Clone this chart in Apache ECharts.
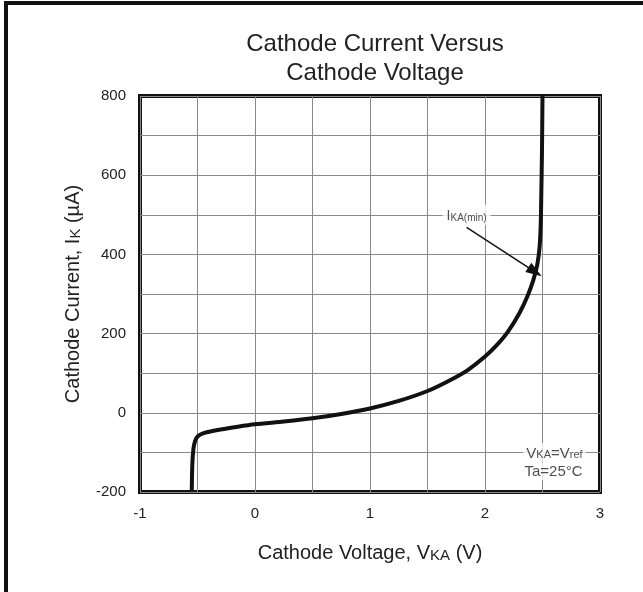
<!DOCTYPE html>
<html>
<head>
<meta charset="utf-8">
<script src="https://cdn.jsdelivr.net/npm/echarts@6/dist/echarts.min.js"></script>
<style>
html,body{margin:0;padding:0;background:#fff;}
#c{width:643px;height:592px;}
</style>
</head>
<body>
<div id="c"></div>
<script>
// Data
var voltage = [-0.55, -0.545, -0.535, -0.52, -0.50, -0.47, -0.42, -0.30, -0.15, 0.0, 0.25, 0.5, 0.75, 1.0, 1.25, 1.5, 1.7, 1.85, 2.0, 2.1, 2.2, 2.3, 2.37, 2.42, 2.455, 2.475, 2.485, 2.49, 2.495, 2.5];
var current = [-200, -130, -90, -70, -60, -54, -49, -42, -35, -29, -22, -14, -3, 11, 30, 55, 83, 108, 142, 170, 205, 252, 295, 335, 375, 420, 480, 560, 650, 800];
var xTickLabels = ['-1', '0', '1', '2', '3'];
var yTickLabels = ['-200', '0', '200', '400', '600', '800'];
var arrowFrom = [1.84, 468];
var arrowTo = [2.435, 356];
var noteIkaPos = [1.84, 500];
var noteVkaPos = [2.875, -100];
var noteTaPos = [2.875, -148];

var chart = echarts.init(document.getElementById('c'));
var font = 'Liberation Sans, Arial, sans-serif';
var txt = '#222';

var curveData = voltage.map(function (v, i) { return [v, current[i]]; });

chart.setOption({
  backgroundColor: '#fff',
  animation: false,
  title: {
    text: 'Cathode Current Versus\nCathode Voltage',
    left: 370,
    textAlign: 'center',
    top: 25,
    textStyle: { fontFamily: font, fontSize: 24, fontWeight: 'normal', color: txt, lineHeight: 29 }
  },
  grid: {
    left: 140, right: 43, top: 96, bottom: 100,
    show: true, borderColor: '#111', borderWidth: 4, backgroundColor: 'transparent'
  },
  xAxis: {
    type: 'value', min: -1, max: 3, interval: 0.5,
    axisLine: { show: false }, axisTick: { show: false },
    splitLine: { lineStyle: { color: '#8a8a8a', width: 1 } },
    axisLabel: {
      margin: 14, fontFamily: font, fontSize: 15, color: txt,
      formatter: function (v) { var s = String(v); return xTickLabels.indexOf(s) >= 0 ? s : ''; }
    },
    name: '{n|Cathode Voltage, V}{s|KA}{n| (V)}',
    nameLocation: 'middle', nameGap: 48,
    nameTextStyle: {
      rich: {
        n: { fontFamily: font, fontSize: 20, color: txt, verticalAlign: 'bottom', lineHeight: 23 },
        s: { fontFamily: font, fontSize: 15, color: txt, verticalAlign: 'bottom', lineHeight: 22 }
      }
    }
  },
  yAxis: {
    type: 'value', min: -200, max: 800, interval: 100,
    axisLine: { show: false }, axisTick: { show: false },
    splitLine: { lineStyle: { color: '#8a8a8a', width: 1 } },
    axisLabel: {
      margin: 14, fontFamily: font, fontSize: 15, color: txt,
      formatter: function (v) { var s = String(v); return yTickLabels.indexOf(s) >= 0 ? s : ''; }
    },
    name: '{n|Cathode Current, I}{s|K}{n| (µA)}',
    nameLocation: 'middle', nameGap: 57,
    nameTextStyle: {
      rich: {
        n: { fontFamily: font, fontSize: 20, color: txt, verticalAlign: 'bottom', lineHeight: 23 },
        s: { fontFamily: font, fontSize: 15, color: txt, verticalAlign: 'bottom', lineHeight: 22 }
      }
    }
  },
  series: [
    {
      type: 'line',
      data: curveData,
      showSymbol: false,
      smooth: 0.25,
      lineStyle: { color: '#111', width: 4 },
      z: 5
    },
    {
      type: 'line',
      data: [],
      markLine: {
        silent: true,
        symbol: ['none', 'triangle'],
        symbolSize: [11, 16],
        label: { show: false },
        lineStyle: { color: '#111', width: 1.5, type: 'solid' },
        data: [[{ coord: arrowFrom }, { coord: arrowTo }]]
      },
      z: 6
    },
    {
      type: 'scatter',
      symbolSize: 0,
      data: [noteIkaPos],
      label: {
        show: true, position: 'inside',
        formatter: '{n|I}{s|KA(min)}',
        backgroundColor: '#fff', padding: [2, 4],
        rich: {
          n: { fontFamily: font, fontSize: 14, color: txt, verticalAlign: 'bottom', lineHeight: 16 },
          s: { fontFamily: font, fontSize: 10, color: txt, verticalAlign: 'bottom', lineHeight: 15 }
        }
      },
      z: 7
    },
    {
      type: 'scatter',
      symbolSize: 0,
      data: [noteVkaPos],
      label: {
        show: true, position: 'left', distance: 0,
        formatter: '{n|V}{s|KA}{n|=V}{s|ref}',
        backgroundColor: '#fff', padding: [1, 3],
        rich: {
          n: { fontFamily: font, fontSize: 15, color: txt, verticalAlign: 'bottom', lineHeight: 17 },
          s: { fontFamily: font, fontSize: 11, color: txt, verticalAlign: 'bottom', lineHeight: 16 }
        }
      },
      z: 7
    },
    {
      type: 'scatter',
      symbolSize: 0,
      data: [noteTaPos],
      label: {
        show: true, position: 'left', distance: 0,
        formatter: 'Ta=25°C',
        backgroundColor: '#fff', padding: [1, 3],
        fontFamily: font, fontSize: 15, color: txt
      },
      z: 7
    }
  ],
  graphic: [
    { type: 'rect', shape: { x: 4, y: 1, width: 639, height: 4 }, style: { fill: '#111' }, z: 100 },
    { type: 'rect', shape: { x: 4, y: 1, width: 4, height: 591 }, style: { fill: '#111' }, z: 100 }
  ]
});
</script>
</body>
</html>
